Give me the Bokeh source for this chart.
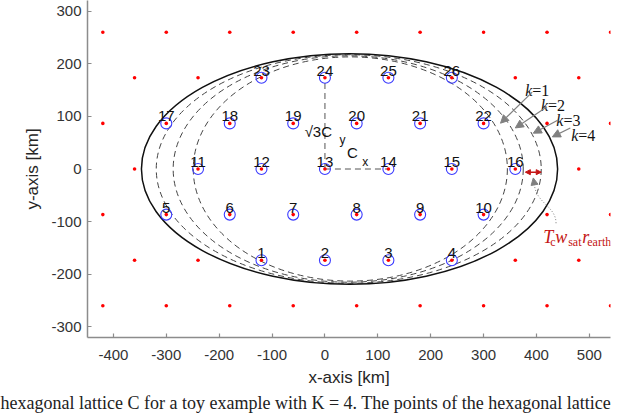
from bokeh.plotting import figure
from bokeh.models import ColumnDataSource, FixedTicker, Arrow, NormalHead, Title
from bokeh.core.properties import value
from bokeh.embed import file_html
from bokeh.resources import INLINE

# ---------------- data (km) ----------------
row_y = [-259.8, -173.2, -86.6, 0.0, 86.6, 173.2, 259.8]
row_x_odd = [-420, -300, -180, -60, 60, 180, 300, 420, 540]
row_x_even = [-360, -240, -120, 0, 120, 240, 360, 480]

cell_id = list(range(1, 27))
cell_x = [-120, 0, 120, 240,
          -300, -180, -60, 60, 180, 300,
          -240, -120, 0, 120, 240, 360,
          -300, -180, -60, 60, 180, 300,
          -120, 0, 120, 240]
cell_y = ([-173.2] * 4 + [-86.6] * 6 + [0.0] * 6 + [86.6] * 6 + [173.2] * 4)

ell_k = [1, 2, 3, 4]
ell_cx = [48, 44, 45, 46.5]
ell_a = [297, 331, 364, 393.5]
ell_b = [213, 215, 217, 219]

x_ticks = [-400, -300, -200, -100, 0, 100, 200, 300, 400, 500]
y_ticks = [-300, -200, -100, 0, 100, 200, 300]

# k labels and arrows
k_lab_x = [392, 422, 451, 479]
k_lab_y = [150, 121.5, 93, 64.5]
k_arr_x0 = [392, 420, 441, 464]
k_arr_y0 = [146, 118, 93, 78]
k_arr_x1 = [332, 360, 394, 430]
k_arr_y1 = [87, 78, 68, 61]

# lattice spacing annotation
cx_line_x = [0, 120]
cx_line_y = [0, 0]
cy_line_x = [0, 0]
cy_line_y = [0, 173.2]

caption = "hexagonal lattice C for a toy example with K = 4. The points of the hexagonal lattice"

# ---------------- figure ----------------
p = figure(width=640, height=415, x_range=(-449, 540), y_range=(-320, 320),
           output_backend="svg", toolbar_location=None,
           min_border_left=87, min_border_right=30, min_border_top=0, min_border_bottom=78)
p.grid.visible = False
p.outline_line_color = None
p.background_fill_color = "white"

AX = "#8c8c8c"
LBL = "#333333"
for ax in (p.xaxis[0], p.yaxis[0]):
    ax.axis_line_color = AX
    ax.axis_line_width = 1.5
    ax.major_tick_line_color = AX
    ax.major_tick_line_width = 1.2
    ax.major_tick_in = 4
    ax.major_tick_out = 0
    ax.minor_tick_line_color = None
    ax.major_label_text_font = "Liberation Sans"
    ax.major_label_text_font_size = "15px"
    ax.major_label_text_color = LBL
    ax.axis_label_text_font = "Liberation Sans"
    ax.axis_label_text_font_size = "17px"
    ax.axis_label_text_font_style = "normal"
    ax.axis_label_text_color = "#262626"

p.xaxis.ticker = FixedTicker(ticks=x_ticks)
p.yaxis.ticker = FixedTicker(ticks=y_ticks)
p.xaxis.major_label_overrides = {t: str(t) for t in x_ticks}
p.yaxis.major_label_overrides = {t: str(t) for t in y_ticks}
p.xaxis.axis_label = "x-axis [km]"
p.yaxis.axis_label = "y-axis [km]"
p.xaxis.major_label_standoff = 12
p.yaxis.major_label_standoff = 6
p.xaxis.axis_label_standoff = 5
p.yaxis.axis_label_standoff = 6

# ellipses
dsrc = ColumnDataSource(dict(x=ell_cx[:3], y=[0] * 3,
                             w=[2 * a for a in ell_a[:3]], h=[2 * b for b in ell_b[:3]]))
p.ellipse(x="x", y="y", width="w", height="h", source=dsrc, fill_color=None,
          line_color="#444444", line_width=1, line_dash="6 4")
p.ellipse(x=[ell_cx[3]], y=[0], width=[2 * ell_a[3]], height=[2 * ell_b[3]],
          fill_color=None, line_color="#111111", line_width=1.5)

# Cx / sqrt3 Cy dashed lines
p.line(cx_line_x, cx_line_y, line_color="#555555", line_width=1, line_dash="6 4")
p.line(cy_line_x, cy_line_y, line_color="#555555", line_width=1, line_dash="6 4")

# blue circles and lattice points
p.scatter(cell_x, cell_y, marker="circle", size=11, fill_color=None,
          line_color="#3b3bff", line_width=1.1)
lat_x, lat_y = [], []
for i, yy in enumerate(row_y):
    xs = row_x_odd if i % 2 == 0 else row_x_even
    lat_x += xs
    lat_y += [yy] * len(xs)
p.scatter(lat_x, lat_y, marker="circle", size=3.6, fill_color="#ff0000", line_color=None)

# cell numbers
p.text(x=cell_x, y=cell_y, text=[str(i) for i in cell_id], y_offset=-7,
       text_align="center", text_baseline="alphabetic",
       text_font=value("Liberation Sans"), text_font_size="15px", text_color="#111111")

# spacing labels
p.text(x=[-12.5], y=[72], text=["\u221a3C"], text_align="center", text_baseline="middle",
       text_font=value("Liberation Sans"), text_font_size="15px", text_color="#111111")
p.text(x=[33], y=[55], text=["y"], text_align="center", text_baseline="middle",
       text_font=value("Liberation Sans"), text_font_size="12px", text_color="#111111")
p.text(x=[52], y=[32], text=["C"], text_align="center", text_baseline="middle",
       text_font=value("Liberation Sans"), text_font_size="15px", text_color="#111111")
p.text(x=[76], y=[13], text=["x"], text_align="center", text_baseline="middle",
       text_font=value("Liberation Sans"), text_font_size="12px", text_color="#111111")

# k labels
p.text(x=k_lab_x, y=k_lab_y, text=["k"] * 4, text_align="right", text_baseline="alphabetic",
       text_font=value("Liberation Serif"), text_font_style="italic",
       text_font_size="16px", text_color="#111111")
p.text(x=k_lab_x, y=k_lab_y, text=["=%d" % k for k in ell_k], text_align="left",
       text_baseline="alphabetic", text_font=value("Liberation Serif"),
       text_font_size="16px", text_color="#111111")
GR = "#808080"
for x0, y0, x1, y1 in zip(k_arr_x0, k_arr_y0, k_arr_x1, k_arr_y1):
    p.add_layout(Arrow(end=NormalHead(size=8, fill_color=GR, line_color=GR),
                       x_start=x0, y_start=y0, x_end=x1, y_end=y1,
                       line_color=GR, line_width=1.2))

# red distance arrow
RED = "#c41414"
p.add_layout(Arrow(start=NormalHead(size=5, fill_color=RED, line_color=RED),
                   end=NormalHead(size=5, fill_color=RED, line_color=RED),
                   x_start=379, y_start=-6, x_end=409, y_end=-6,
                   line_color=RED, line_width=1.5))

# dotted pointer
p.bezier(x0=[437], y0=[-103], x1=[396], y1=[-28], cx0=[437], cy0=[-70],
         cx1=[398], cy1=[-65], line_color=GR, line_width=1, line_dash="1 2")
p.add_layout(Arrow(end=NormalHead(size=7, fill_color=GR, line_color=GR),
                   x_start=396, y_start=-28, x_end=394, y_end=-17,
                   line_color=GR, line_width=1, line_dash="1 2"))

# T_c w_sat r_earth
pieces = [("T", 413, -129, "italic", "18px"), ("c", 426, -138.6, "normal", "12px"),
          ("w", 435.6, -129, "italic", "18px"), ("sat", 460, -138.6, "normal", "12px"),
          ("r", 486.7, -129, "italic", "18px"), ("earth", 496, -138.6, "normal", "12px")]
for t, x, y, st, fs in pieces:
    p.text(x=[x], y=[y], text=[t], text_align="left", text_baseline="alphabetic",
           text_font=value("Liberation Serif"), text_font_style=st,
           text_font_size=fs, text_color=RED)

# caption fragment (cropped in the reference)
p.add_layout(Title(text=caption, align="left", offset=-87, standoff=3,
                   text_font="Liberation Serif", text_font_size="18px",
                   text_font_style="normal", text_color="#222222"), "below")

open("out.html", "w").write(file_html(p, INLINE))
